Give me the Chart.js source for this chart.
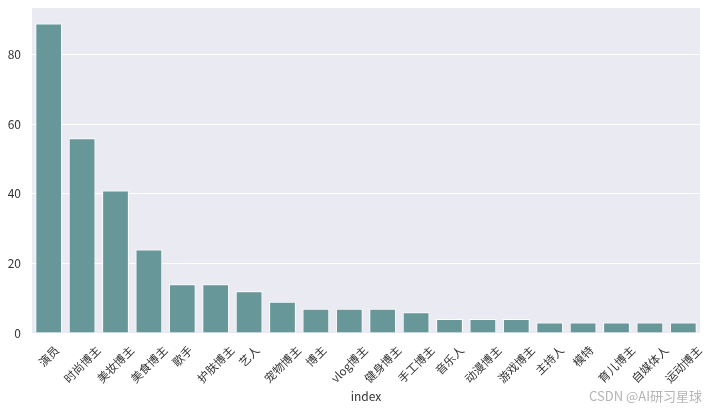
<!DOCTYPE html>
<html>
<head>
<meta charset="utf-8">
<script src="https://cdn.jsdelivr.net/npm/chart.js@4/dist/chart.umd.min.js"></script>
<style>
  body { margin: 0; background: #fff; }
  #wrap { position: relative; width: 712px; height: 409px; }
  #mark { position: absolute; right: 10px; top: 386px; font: 13px "Noto Sans CJK SC", sans-serif; color: #b4b4b4; }
</style>
</head>
<body>
<div id="wrap">
  <canvas id="roleChart" width="712" height="409"></canvas>
  <div id="mark">CSDN @AI研习星球</div>
</div>
<script>
var categories = ["演员", "时尚博主", "美妆博主", "美食博主", "歌手", "护肤博主", "艺人", "宠物博主", "博主", "vlog博主",
    "健身博主", "手工博主", "音乐人", "动漫博主", "游戏博主", "主持人", "模特", "育儿博主", "自媒体人", "运动博主"];
var counts = [89, 56, 41, 24, 14, 14, 12, 9, 7, 7, 7, 6, 4, 4, 4, 3, 3, 3, 3, 3];
var yTicks = [0, 20, 40, 60, 80];

var fontFamily = '"Noto Sans CJK SC", "Noto Sans", sans-serif';

// seaborn-like grey panel behind the bars
var panelBg = {
    id: 'panelBg',
    beforeDraw: function (chart) {
        var a = chart.chartArea;
        var ctx = chart.ctx;
        ctx.save();
        ctx.fillStyle = '#EAEAF2';
        ctx.fillRect(a.left, a.top, a.right - a.left, a.bottom - a.top);
        ctx.restore();
    }
};

// x labels rotated 45deg, centred on the tick like matplotlib does
var rotatedLabels = {
    id: 'rotatedLabels',
    afterDraw: function (chart) {
        var xs = chart.scales.x;
        var ctx = chart.ctx;
        var size = 11.5;
        var y0 = chart.chartArea.bottom + 11;
        ctx.save();
        ctx.font = size + 'px ' + fontFamily;
        ctx.fillStyle = '#333';
        ctx.textAlign = 'center';
        ctx.textBaseline = 'middle';
        categories.forEach(function (label, i) {
            var x = xs.getPixelForTick(i);
            var w = ctx.measureText(label).width;
            var half = (w + size) / (2 * Math.SQRT2);
            ctx.save();
            ctx.translate(x, y0 + half);
            ctx.rotate(-Math.PI / 4);
            ctx.fillText(label, 0, 0);
            ctx.restore();
        });
        ctx.restore();
    }
};

new Chart("roleChart", {
    type: "bar",
    data: {
        labels: categories,
        datasets: [{
            data: counts,
            backgroundColor: "#679798",
            borderColor: "#ffffff",
            borderWidth: 1,
            categoryPercentage: 0.8,
            barPercentage: 1.0
        }]
    },
    plugins: [panelBg, rotatedLabels],
    options: {
        responsive: false,
        animation: false,
        layout: { padding: { top: 8, right: 12, left: 0, bottom: 0 } },
        plugins: {
            legend: { display: false },
            tooltip: { enabled: false }
        },
        scales: {
            x: {
                grid: { display: false },
                border: { display: false },
                ticks: { display: false },
                title: {
                    display: true,
                    text: "index",
                    color: "#333",
                    font: { family: fontFamily, size: 12 },
                    padding: { top: 0, bottom: 5 }
                },
                afterFit: function (s) { s.height = 76; }
            },
            y: {
                min: 0,
                max: 93.45,
                afterBuildTicks: function (s) {
                    s.ticks = yTicks.map(function (v) { return { value: v }; });
                },
                grid: { color: "#ffffff", lineWidth: 1, drawTicks: false },
                border: { display: false },
                ticks: {
                    padding: 11,
                    color: "#333",
                    font: { family: fontFamily, size: 12 }
                },
                afterFit: function (s) {
                    s.width = 32;
                    s.paddingTop = 0;
                    s.paddingBottom = 0;
                }
            }
        }
    }
});
</script>
</body>
</html>
